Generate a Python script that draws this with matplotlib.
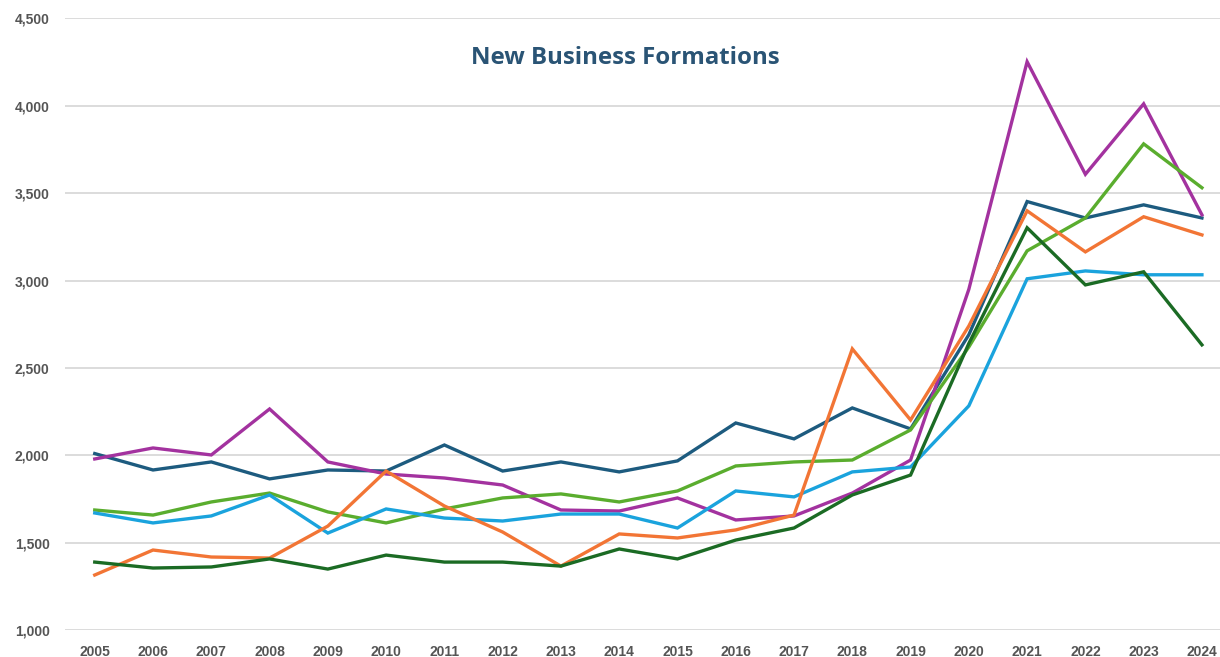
import matplotlib.pyplot as plt
from matplotlib.ticker import FuncFormatter, MultipleLocator

years = list(range(2005, 2025))

# six unlabeled series
dark_blue = [2010, 1916, 1962, 1865, 1916, 1910, 2059, 1910, 1962, 1905,
             1968, 2185, 2094, 2271, 2151, 2690, 3452, 3358, 3433, 3358]
magenta = [1979, 2042, 2002, 2265, 1962, 1893, 1870, 1830, 1687, 1681,
           1756, 1630, 1653, 1784, 1973, 2950, 4252, 3608, 4011, 3376]
light_green = [1687, 1658, 1733, 1784, 1676, 1613, 1693, 1756, 1779, 1733,
               1796, 1939, 1962, 1973, 2145, 2620, 3170, 3358, 3782, 3531]
light_blue = [1670, 1613, 1653, 1773, 1555, 1693, 1641, 1624, 1664, 1664,
              1584, 1796, 1762, 1905, 1933, 2283, 3010, 3055, 3033, 3033]
orange = [1315, 1458, 1418, 1412, 1595, 1910, 1710, 1561, 1366, 1550,
          1527, 1573, 1658, 2609, 2202, 2740, 3399, 3164, 3365, 3261]
dark_green = [1389, 1355, 1361, 1407, 1349, 1429, 1389, 1389, 1366, 1464,
              1407, 1515, 1584, 1773, 1887, 2640, 3302, 2975, 3050, 2632]

series = [
    (dark_blue, "#1d5b7f"),
    (magenta, "#a3329f"),
    (light_green, "#5aad2e"),
    (light_blue, "#1aa3dd"),
    (orange, "#f27535"),
    (dark_green, "#1b6b24"),
]

fig = plt.figure(figsize=(12.2, 6.57), dpi=100)
ax = fig.add_axes([0.0533, 0.041, 0.9467, 0.931])

for vals, color in series:
    ax.plot(years, vals, color=color, linewidth=2.4, solid_joinstyle="miter", zorder=3)

ax.set_xlim(2004.49, 2024.31)
ax.set_ylim(1000, 4500)
ax.yaxis.set_major_locator(MultipleLocator(500))
ax.yaxis.set_major_formatter(FuncFormatter(lambda v, p: f"{int(v):,}"))
ax.set_xticks(years)

ax.grid(axis="y", color="#dcdcdc", linewidth=1.4, zorder=0)
for s in ax.spines.values():
    s.set_visible(False)

ax.tick_params(axis="both", length=0, labelsize=10, labelcolor="#555555")
ax.tick_params(axis="x", pad=11)
ax.tick_params(axis="y", pad=11)
for lbl in ax.get_xticklabels() + ax.get_yticklabels():
    lbl.set_fontfamily("Liberation Sans")
    lbl.set_fontweight("bold")

ax.text(0.5127, 0.912, "New Business Formations", transform=fig.transFigure,
        ha="center", va="center", fontsize=17.3, fontweight="bold",
        color="#2a5475", family="Open Sans")

fig.savefig("out.png", dpi=100, facecolor="white")
